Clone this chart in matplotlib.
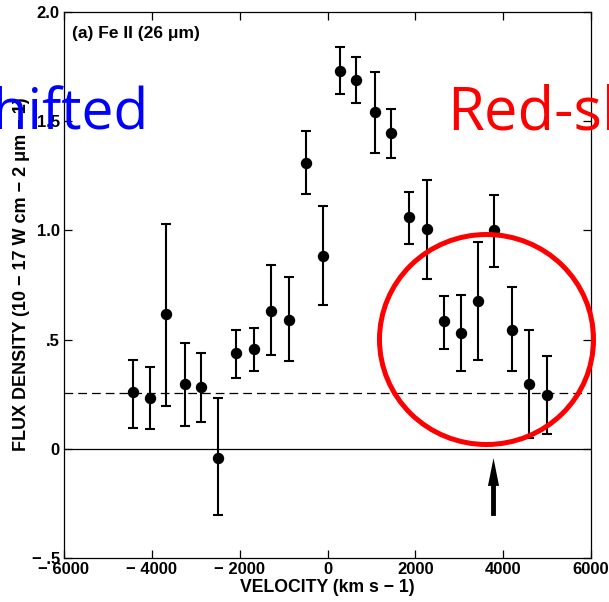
import matplotlib.pyplot as plt
from matplotlib.patches import Ellipse

# Fe II (26 um) line profile
velocity = [-4440, -4045, -3670, -3250, -2875, -2485, -2080, -1680, -1280, -880,
            -490, -100, 295, 650, 1075, 1445, 1850, 2265, 2655, 3045,
            3425, 3790, 4200, 4590, 5000]
flux = [0.258, 0.233, 0.615, 0.298, 0.282, -0.042, 0.437, 0.456, 0.632, 0.590,
        1.309, 0.882, 1.732, 1.688, 1.540, 1.445, 1.062, 1.006, 0.586, 0.530,
        0.677, 1.003, 0.544, 0.295, 0.245]
err_hi = [0.408, 0.373, 1.029, 0.485, 0.440, 0.233, 0.546, 0.555, 0.840, 0.786,
          1.453, 1.110, 1.838, 1.794, 1.723, 1.558, 1.177, 1.230, 0.701, 0.705,
          0.945, 1.160, 0.741, 0.544, 0.424]
err_lo = [0.097, 0.091, 0.197, 0.105, 0.124, -0.302, 0.323, 0.356, 0.430, 0.400,
          1.165, 0.659, 1.623, 1.585, 1.356, 1.332, 0.940, 0.777, 0.455, 0.356,
          0.408, 0.832, 0.355, 0.049, 0.068]
continuum = 0.256
arrow_v = 3780

xticks = [-6000, -4000, -2000, 0, 2000, 4000, 6000]
xticklabels = ['\u2212 6000', '\u2212 4000', '\u2212 2000', '0', '2000', '4000', '6000']
yticks = [-0.5, 0, 0.5, 1.0, 1.5, 2.0]
yticklabels = ['\u2212 .5', '0', '.5', '1.0', '1.5', '2.0']

plt.rcParams['font.family'] = ['Liberation Sans', 'DejaVu Sans']

fig = plt.figure(figsize=(6.09, 6.02), dpi=100)
ax = fig.add_axes([64/609, 1-558/602, (591-64)/609, 546/602])

yerr = [[f - lo for f, lo in zip(flux, err_lo)], [hi - f for f, hi in zip(flux, err_hi)]]
ax.errorbar(velocity, flux, yerr=yerr, fmt='o', color='black', ms=7.2,
            elinewidth=1.5, capsize=3.6, capthick=1.5)

ax.axhline(0, color='black', lw=0.9)
ax.axhline(continuum, color='black', lw=0.9, ls=(0, (7, 4)))

ax.annotate('', xy=(arrow_v, -0.03), xytext=(arrow_v, -0.32),
            arrowprops=dict(arrowstyle='simple,head_width=0.8,head_length=2.0,tail_width=0.35',
                            color='black', lw=0))

ax.set_xlim(-6000, 6000)
ax.set_ylim(-0.5, 2.0)
ax.set_xticks(xticks)
ax.set_xticklabels(xticklabels, fontweight='bold', fontsize=12)
ax.set_yticks(yticks)
ax.set_yticklabels(yticklabels, fontweight='bold', fontsize=12)
ax.tick_params(direction='in', length=6, width=0.9, top=True, right=True, pad=3)
for s in ax.spines.values():
    s.set_linewidth(0.9)

ax.text(0.016, 0.975, '(a) Fe II (26 \u03bcm)', transform=ax.transAxes,
        fontsize=12.5, fontweight='bold', va='top', ha='left')

ax.set_xlabel('VELOCITY (km s \u2212 1)', fontsize=12.7, fontweight='bold', labelpad=1)
fig.text(22/609, 1-274/602, 'FLUX DENSITY (10 \u2212 17 W cm \u2212 2 \u03bcm \u2212 1)',
         rotation=90, fontsize=13, fontweight='bold', ha='center', va='center')

# overlay annotations
fig.text(149/609, 1-130/602, 'Blue-shifted', color='#0000ff', fontsize=41,
         family='Open Sans', ha='right', va='baseline')
fig.text(447/609, 1-130/602, 'Red-shifted', color='#ff0000', fontsize=43,
         family='Open Sans', ha='left', va='baseline')
fig.add_artist(Ellipse((486.5/609, 1-339.5/602), 214/609, 210/602,
                       transform=fig.transFigure, fill=False, ec='#ff0000', lw=3.6))

plt.savefig('out.png', dpi=100)
